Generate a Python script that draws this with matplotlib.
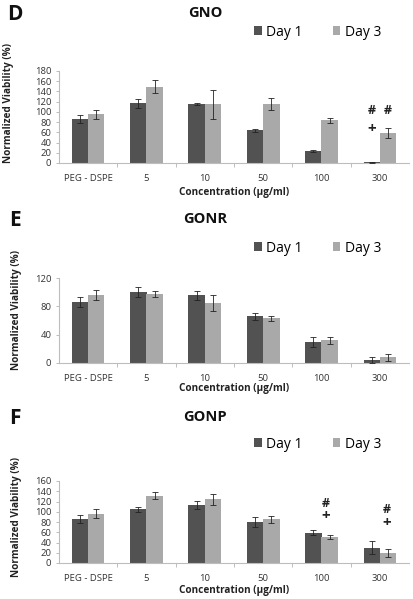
import numpy as np
import matplotlib
matplotlib.use("Agg")
from matplotlib import pyplot as plt
from matplotlib.ticker import FixedLocator

plt.rcParams["font.family"] = ["Open Sans", "DejaVu Sans"]

# Categories
categories = ["PEG - DSPE", "5", "10", "50", "100", "300"]
series_names = ["Day 1", "Day 3"]

# GNO
gno_day1 = [86, 117, 115, 64, 23, 1.5]
gno_day1_err = [8, 9, 2, 3, 2, 1]
gno_day3 = [95, 149, 115, 115, 84, 58.5]
gno_day3_err = [9, 13, 28, 11.5, 5, 10]

# GONR
gonr_day1 = [86, 100, 95.5, 66, 29.5, 4.5]
gonr_day1_err = [7, 7, 6.5, 5, 7, 4]
gonr_day3 = [96, 97, 85, 63.5, 32, 8]
gonr_day3_err = [7, 4, 11.5, 3.5, 5, 5]

# GONP
gonp_day1 = [86, 105, 113, 80, 59, 30]
gonp_day1_err = [8, 5, 8.5, 9, 5, 13]
gonp_day3 = [96, 131, 124, 85, 50, 19]
gonp_day3_err = [9, 7, 11, 6, 4, 8]

# Significance marks: (text, category index, offset, value)
gno_marks = [("#", 5, -0.14, 102), ("#", 5, 0.14, 102), ("+", 5, -0.14, 66)]
gonr_marks = []
gonp_marks = [("#", 4, 0.08, 116), ("+", 4, 0.08, 91),
              ("#", 5, 0.12, 105), ("+", 5, 0.12, 78)]

dark = "#525252"
light = "#a9a9a9"
spine_col = "#bdbdbd"

W, H = 414, 599
fig = plt.figure(figsize=(W / 100, H / 100), dpi=100)


def px_axes(left, right, top, bottom):
    return fig.add_axes([left / W, 1 - bottom / H, (right - left) / W, (bottom - top) / H])


panels = [
    dict(letter="D", title="GNO", d1=gno_day1, e1=gno_day1_err, d3=gno_day3, e3=gno_day3_err,
         marks=gno_marks, ymax=180, ystep=20, top=71, bottom=163, title_y=13,
         legend_y=32, ylab=(9, 103), xlab_y=192),
    dict(letter="E", title="GONR", d1=gonr_day1, e1=gonr_day1_err, d3=gonr_day3, e3=gonr_day3_err,
         marks=gonr_marks, ymax=120, ystep=40, top=278, bottom=363, title_y=219,
         legend_y=248, ylab=(17, 310), xlab_y=389),
    dict(letter="F", title="GONP", d1=gonp_day1, e1=gonp_day1_err, d3=gonp_day3, e3=gonp_day3_err,
         marks=gonp_marks, ymax=160, ystep=20, top=481, bottom=563, title_y=417,
         legend_y=444, ylab=(17, 517), xlab_y=591),
]

x = np.arange(len(categories))
w = 0.28

for p in panels:
    ax = px_axes(59, 409, p["top"], p["bottom"])
    b1 = ax.bar(x - 0.14, p["d1"], w, color=dark, label=series_names[0], zorder=2)
    b3 = ax.bar(x + 0.14, p["d3"], w, color=light, label=series_names[1], zorder=2)
    ax.errorbar(x - 0.14, p["d1"], yerr=p["e1"], fmt="none", ecolor="#222222",
                elinewidth=0.6, capsize=2, capthick=0.6, zorder=3)
    ax.errorbar(x + 0.14, p["d3"], yerr=p["e3"], fmt="none", ecolor="#222222",
                elinewidth=0.6, capsize=2, capthick=0.6, zorder=3)

    for txt, i, off, val in p["marks"]:
        ax.text(i + off, val, txt, ha="center", va="center",
                fontsize=9 if txt == "#" else 11,
                fontweight="bold", color="#222222")

    ax.set_xlim(-0.5, len(categories) - 0.5)
    ax.set_ylim(0, p["ymax"])
    ax.set_yticks(np.arange(0, p["ymax"] + 1, p["ystep"]))
    ax.set_xticks(x)
    ax.set_xticklabels(categories)
    ax.xaxis.set_minor_locator(FixedLocator(x[:-1] + 0.5))
    ax.tick_params(axis="x", which="major", length=0, pad=8, labelsize=6.8, labelcolor="#333333")
    ax.tick_params(axis="x", which="minor", length=3, color=spine_col, width=0.7)
    ax.tick_params(axis="y", length=2.5, color=spine_col, width=0.7, pad=3,
                   labelsize=6.8, labelcolor="#333333")
    for s in ["top", "right"]:
        ax.spines[s].set_visible(False)
    for s in ["left", "bottom"]:
        ax.spines[s].set_color(spine_col)
        ax.spines[s].set_linewidth(0.8)

    ax.set_xlabel("Concentration (µg/ml)", fontsize=7.2, fontweight="bold", color="#222222")
    ax.xaxis.label.set_va("center")
    ax.xaxis.set_label_coords(0.5, (p["bottom"] - p["xlab_y"]) / (p["bottom"] - p["top"]))

    fig.text(p["ylab"][0] / W, 1 - p["ylab"][1] / H, "Normalized Viability (%)",
             rotation=90, ha="center", va="center", fontsize=7.2, fontweight="bold",
             color="#222222")

    fig.text(15 / W, 1 - (p["title_y"] + 1) / H, p["letter"], ha="center", va="center",
             fontsize=15, fontweight="bold", color="#111111")
    fig.text(205 / W, 1 - p["title_y"] / H, p["title"], ha="center", va="center",
             fontsize=10.5, fontweight="bold", color="#111111")

    fig.legend(handles=[b1, b3], loc="center left",
               bbox_to_anchor=(254 / W, 1 - p["legend_y"] / H), ncol=2, frameon=False,
               fontsize=10, handlelength=0.55, handleheight=0.55, handletextpad=0.3,
               columnspacing=2.2, borderaxespad=0, borderpad=0)

fig.savefig("out.png", dpi=100, facecolor="white")
